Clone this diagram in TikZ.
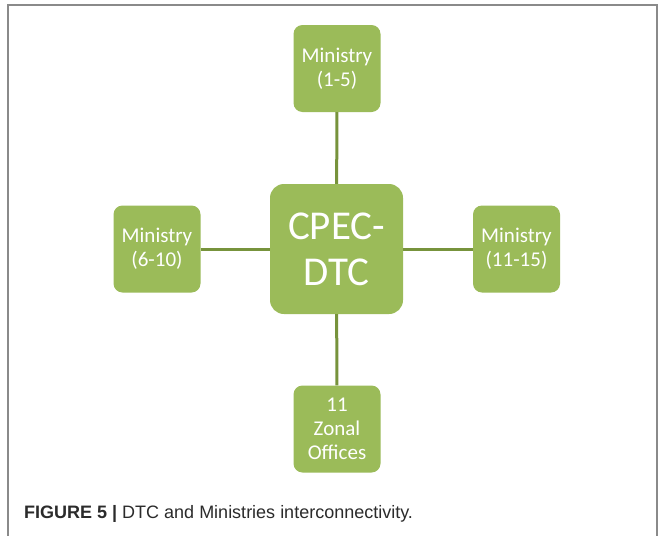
\documentclass[tikz,border=0pt]{standalone}
\usepackage{fontspec}
\setmainfont{Carlito}
\newfontfamily\capfont{Liberation Sans}
\definecolor{boxgreen}{HTML}{9BBB59}
\definecolor{linegreen}{HTML}{77933C}
\definecolor{framegray}{HTML}{8A8A8A}
\definecolor{captext}{HTML}{2B2B2B}
\begin{document}
\begin{tikzpicture}[x=1pt,y=-1pt,
  smallbox/.style={fill=boxgreen, rounded corners=9pt, minimum width=87pt, minimum height=87pt,
    text=white, align=center, font=\fontsize{21}{24}\selectfont, inner sep=0pt},
  bigbox/.style={fill=boxgreen, rounded corners=14pt, minimum width=133pt, minimum height=130pt,
    text=white, align=center, font=\fontsize{41}{46}\selectfont, inner sep=0pt},
  link/.style={draw=linegreen, line width=3pt}]
\useasboundingbox (0,0) rectangle (665,536);
\fill[white] (0,0) rectangle (665,536);
\draw[framegray, line width=1.5pt] (8,540) -- (8,5) -- (657,5) -- (657,540);
\node[bigbox] (c) at (336.5,249) {CPEC-\\DTC};
\node[smallbox] (t) at (337,68.5) {Ministry\\(1-5)};
\node[smallbox] (l) at (157,249) {Ministry\\(6-10)};
\node[smallbox] (r) at (516.5,249) {Ministry\\(11-15)};
\node[smallbox] (b) at (337,429) {11\\Zonal\\Offices};
\draw[link] (t) -- (c);
\draw[link] (b) -- (c);
\draw[link] (l) -- (c);
\draw[link] (r) -- (c);
\node[anchor=base west, inner sep=0pt, font=\capfont\fontsize{18}{21}\selectfont, text=captext] (cap) at (24,518)
  {\textbf{FIGURE 5 |} DTC and Ministries interconnectivity.};
\end{tikzpicture}
\end{document}
